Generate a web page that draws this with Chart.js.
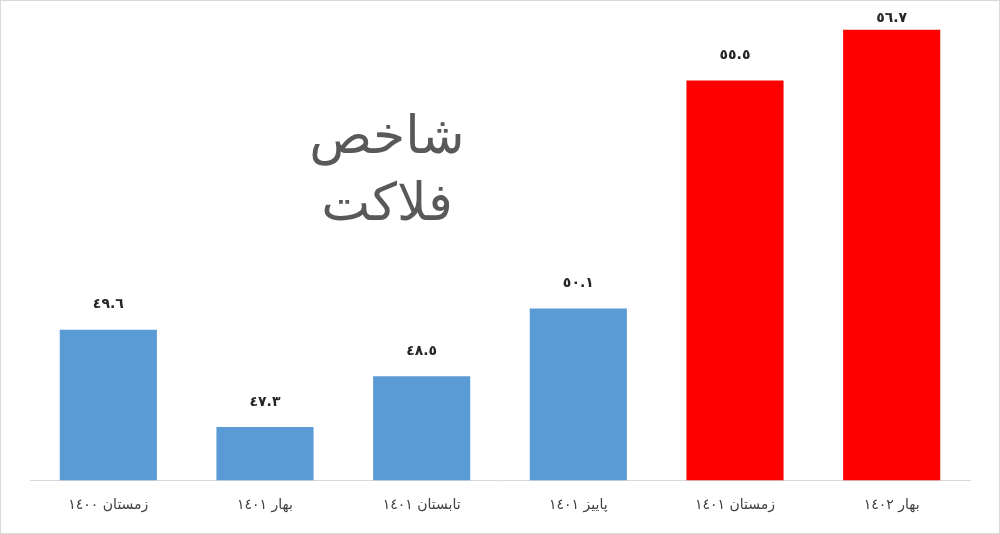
<!DOCTYPE html>
<html>
<head>
<meta charset="utf-8">
<script src="https://cdn.jsdelivr.net/npm/chart.js@4"></script>
<style>
  body { margin: 0; background: #fff; }
  #wrap { width: 998px; height: 532px; border: 1px solid #d9d9d9; }
</style>
</head>
<body>
<div id="wrap"><canvas id="chart" width="998" height="532"></canvas></div>
<script>
// دسته ها و مقادیر
const categories = ['زمستان ١٤٠٠', 'بهار ١٤٠١', 'تابستان ١٤٠١', 'پاییز ١٤٠١', 'زمستان ١٤٠١', 'بهار ١٤٠٢'];
const values = [49.6, 47.3, 48.5, 50.1, 55.5, 56.7];
const valueLabels = ['٤٩.٦', '٤٧.٣', '٤٨.٥', '٥٠.١', '٥٥.٥', '٥٦.٧'];
const barColors = ['#5b9bd5', '#5b9bd5', '#5b9bd5', '#5b9bd5', '#ff0000', '#ff0000'];
const titleLines = ['شاخص', 'فلاکت'];

// عدد بالای هر ستون
const valuePlugin = {
  id: 'valueLabels',
  afterDatasetsDraw(chart) {
    const ctx = chart.ctx;
    const meta = chart.getDatasetMeta(0);
    ctx.save();
    ctx.font = 'bold 14px "DejaVu Sans"';
    ctx.fillStyle = '#262626';
    ctx.textAlign = 'center';
    ctx.textBaseline = 'bottom';
    meta.data.forEach((bar, i) => {
      // اگر جا نبود کمی پایین تر
      ctx.fillText(valueLabels[i], bar.x, Math.max(bar.y - 18, 24));
    });
    ctx.restore();
  }
};

// عنوان وسط نمودار
const titlePlugin = {
  id: 'bigTitle',
  afterDraw(chart) {
    const ctx = chart.ctx;
    ctx.save();
    ctx.font = '52px "DejaVu Sans"';
    ctx.fillStyle = '#595959';
    ctx.textAlign = 'center';
    ctx.textBaseline = 'middle';
    ctx.fillText(titleLines[0], 386, 138);
    ctx.fillText(titleLines[1], 386, 205);
    ctx.restore();
  }
};

new Chart(document.getElementById('chart'), {
  type: 'bar',
  data: {
    labels: categories,
    datasets: [{
      data: values,
      backgroundColor: barColors,
      barPercentage: 0.62,
      categoryPercentage: 1
    }]
  },
  options: {
    responsive: false,
    animation: false,
    layout: { padding: { left: 29, right: 29, top: 16, bottom: 10 } },
    plugins: {
      legend: { display: false },
      tooltip: { enabled: false }
    },
    scales: {
      y: { display: false, min: 46.04, max: 57 },
      x: {
        grid: { display: false },
        border: { display: true, color: '#d9d9d9' },
        ticks: {
          color: '#404040',
          font: { size: 14, family: '"DejaVu Sans"' },
          padding: 9
        }
      }
    }
  },
  plugins: [valuePlugin, titlePlugin]
});
</script>
</body>
</html>
